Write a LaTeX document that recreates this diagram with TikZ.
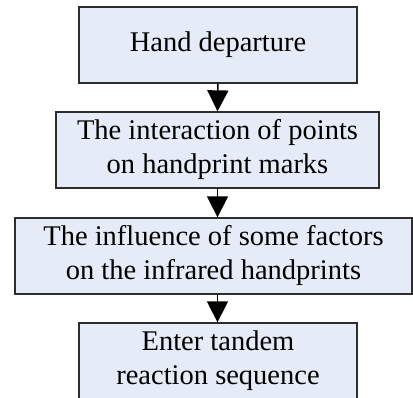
\documentclass[tikz,border=0pt]{standalone}
\usepackage{fontspec}
\setmainfont{Liberation Serif}
\usetikzlibrary{arrows.meta}
\definecolor{boxfill}{RGB}{230,236,247}
\definecolor{boxline}{RGB}{45,45,45}
\begin{document}
\begin{tikzpicture}[x=1pt,y=1pt,
  stepbox/.style={draw=boxline, line width=1.3pt, fill=boxfill, minimum height=76pt,
    inner sep=0pt, align=center, font=\fontsize{28.5}{34}\selectfont},
  flow/.style={line width=1.5pt, -{Triangle[width=21pt,length=21pt]}, shorten >=0pt}]
\useasboundingbox (0,0) rectangle (413,397);
\clip (0,0) rectangle (413,397);
\node[stepbox, minimum width=278pt] (b1) at (218,352) {Hand departure};
\node[stepbox, minimum width=323pt] (b2) at (217.5,247) {The interaction of points\\on handprint marks};
\node[stepbox, minimum width=397pt] (b3) at (213.5,141) {The influence of some factors\\on the infrared handprints};
\node[stepbox, minimum width=278pt] (b4) at (218,36) {Enter tandem\\reaction sequence};
\draw[flow] (b1.south) -- (b2.north);
\draw[flow] (b2.south) -- (b3.north -| b2.south);
\draw[flow] (b3.south -| b2.south) -- (b4.north -| b2.south);
\end{tikzpicture}
\end{document}
